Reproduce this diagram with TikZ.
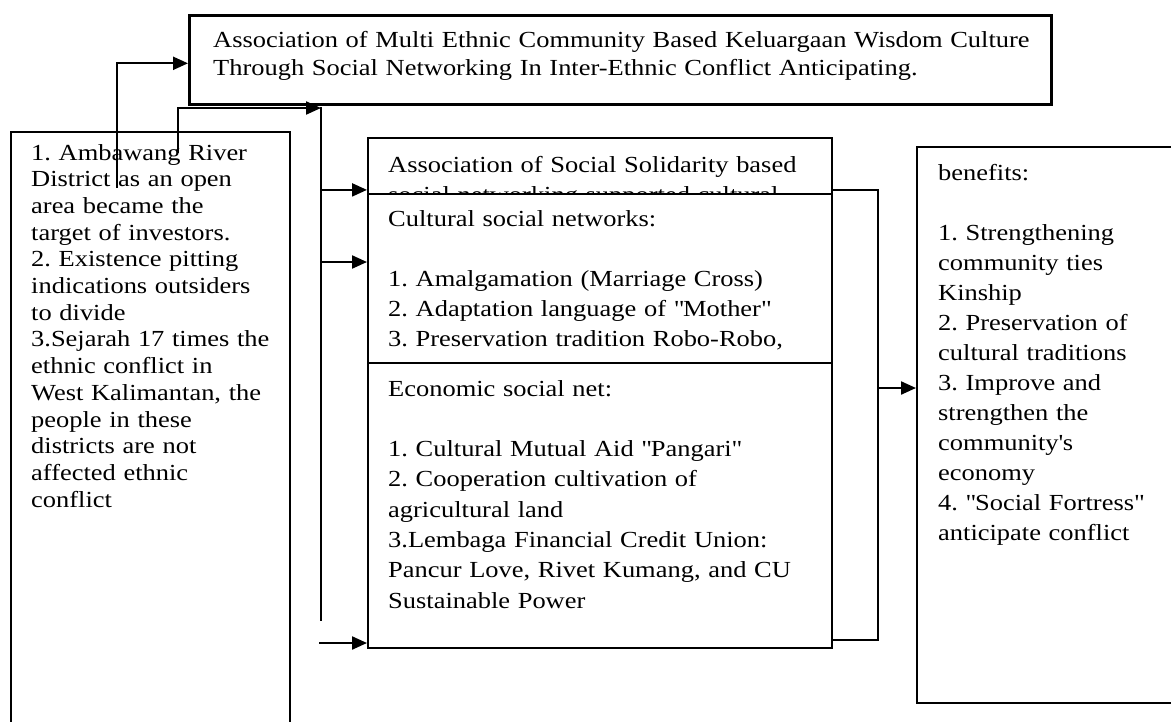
\documentclass[tikz,border=0pt]{standalone}
\usepackage{fontspec}
\setmainfont{Liberation Serif}[FakeStretch=1.15]
\usetikzlibrary{arrows.meta,calc}
\frenchspacing
\newcommand{\titlefont}{\fontsize{23}{28}\selectfont}
\newcommand{\issuefont}{\fontsize{23}{26.7}\selectfont}
\newcommand{\panelfont}{\fontsize{23}{30}\selectfont}
\newcommand{\econfont}{\fontsize{23}{30.3}\selectfont}
\newcommand{\qq}[1]{\textquotedbl#1\textquotedbl}
\tikzset{
  panel/.style={draw=black, fill=white, line width=1.8pt, inner sep=0pt, anchor=north west},
  headpanel/.style={panel, line width=2.6pt},
  blurb/.style={anchor=base west, inner sep=0pt, align=left},
  link/.style={line width=2.2pt, line cap=rect},
  feed/.style={link, -{Triangle[length=15pt,width=13pt]}},
}
\begin{document}
\begin{tikzpicture}[x=1pt,y=-1pt]
  \fill[white] (0,0) rectangle (1171,721);
  \useasboundingbox (0,0) rectangle (1171,721);
  % boxes
  \node[headpanel, minimum width=862pt, minimum height=89pt] (title) at (188,14) {};
  \node[panel, minimum width=279pt, minimum height=660pt] (issues) at (10,131) {};
  \node[panel, minimum width=464pt, minimum height=104pt] (assoc) at (367,137) {};
  \node[blurb, font=\panelfont, text width=460pt] (assoctext) at (388,172)
    {Association of Social Solidarity based\\social networking supported cultural};
  \node[panel, minimum width=464pt, minimum height=169pt] (culture) at (367,193) {};
  \node[panel, minimum width=464pt, minimum height=285pt] (econ) at (367,362) {};
  \node[panel, minimum width=300pt, minimum height=556pt] (gains) at (916,146) {};
  % texts
  \node[blurb, font=\titlefont, text width=900pt] (titletext) at (213,47)
    {Association of Multi Ethnic Community Based Keluargaan Wisdom Culture\\
     Through Social Networking In Inter-Ethnic Conflict Anticipating.};
  \node[blurb, font=\issuefont, text width=300pt] (issuestext) at (31,160)
    {1. Ambawang River\\District as an open\\area became the\\target of investors.\\
     2. Existence pitting\\indications outsiders\\to divide\\
     3.Sejarah 17 times the\\ethnic conflict in\\West Kalimantan, the\\
     people in these\\districts are not\\affected ethnic\\conflict};
  \node[blurb, font=\panelfont, text width=460pt] (culturetext) at (388,226)
    {Cultural social networks:\\ \mbox{}\\
     1. Amalgamation (Marriage Cross)\\
     2. Adaptation language of \qq{Mother}\\
     3. Preservation tradition Robo-Robo,};
  \node[blurb, font=\econfont, text width=460pt] (econtext) at (388,396)
    {Economic social net:\\ \mbox{}\\
     1. Cultural Mutual Aid \qq{Pangari}\\
     2. Cooperation cultivation of\\agricultural land\\
     3.Lembaga Financial Credit Union:\\
     Pancur Love, Rivet Kumang, and CU\\Sustainable Power};
  \node[blurb, font=\panelfont, text width=260pt] (gainstext) at (938,180)
    {benefits:\\ \mbox{}\\
     1. Strengthening\\community ties\\Kinship\\
     2. Preservation of\\cultural traditions\\
     3. Improve and\\strengthen the\\community\textquotesingle s\\economy\\
     4. \qq{Social Fortress}\\anticipate conflict};
  % connectors
  \coordinate (upA) at (117,187);
  \coordinate (upB) at (178,152);
  \coordinate (trunk) at (321,108);
  \coordinate (trunkend) at (321,620);
  \coordinate (lowfeed) at (320,643);
  \coordinate (hub) at (878,388);
  \draw[feed] (upA) |- ([yshift=-3.5pt]title.west);
  \draw[feed] (upB) |- (trunk);
  \draw[link] (trunk) -- (trunkend);
  \draw[feed] (trunk |- assoc.west) -- (assoc.west);
  \draw[feed] (trunk |- 0,262) -- (culture.west |- 0,262);
  \draw[feed] (lowfeed) -- (lowfeed -| econ.west);
  \draw[link] (assoc.east) -| (hub) |- ([yshift=9pt]econ.south east);
  \draw[feed] (hub) -- (hub -| gains.west);
\end{tikzpicture}
\end{document}
